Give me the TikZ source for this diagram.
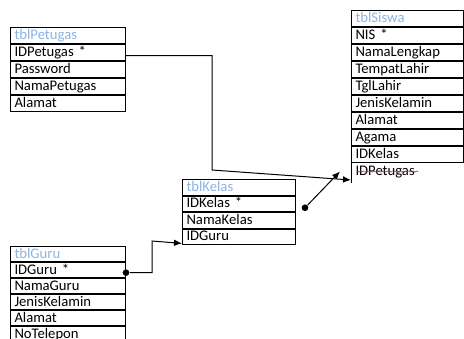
\documentclass[tikz,border=0pt]{standalone}
\usepackage{fontspec}
\setmainfont{Carlito}
\usetikzlibrary{arrows.meta,positioning,decorations.pathmorphing}
\definecolor{head_blue}{RGB}{141,179,226}
\definecolor{spell_red}{RGB}{225,40,40}

\begin{document}
\begin{tikzpicture}[x=0.75pt,y=-0.75pt,line width=0.75pt,>={Latex[length=6pt,width=5pt]}]
    \tikzstyle{cell}=[draw=black, rectangle, inner xsep=3pt, inner ysep=0pt, text height=8pt, text depth=2pt, align=left, font=\fontsize{11pt}{13pt}\selectfont, text=black]
    \tikzstyle{head}=[style=cell, text=head_blue]
    \tikzstyle{dot}=[circle, fill=black, draw=none, inner sep=0pt, minimum size=5pt]
    \tikzstyle{spell}=[spell_red, line width=0.4pt, decorate, decoration={snake, amplitude=0.45pt, segment length=2pt}]

    \useasboundingbox (0,0) rectangle (464,339);

    % tblPetugas
    \begin{scope}[nodes={text width=80.25pt, minimum height=12pt}]
    \node[head, anchor=north west] (ptbl) at (10,27) {tblPetugas};
    \node[cell, below=0pt of ptbl]   (pid)    {IDPetugas *};
    \node[cell, below=0pt of pid]    (ppass)  {Password};
    \node[cell, below=0pt of ppass]  (pnama)  {NamaPetugas};
    \node[cell, below=0pt of pnama]  (palmt)  {Alamat};
    \end{scope}

    % tblSiswa
    \begin{scope}[nodes={text width=78pt, minimum height=12pt}]
    \node[head, anchor=north west] (stbl) at (351,10) {tblSiswa};
    \node[cell, below=0pt of stbl]   (snis)   {NIS *};
    \node[cell, below=0pt of snis]   (snama)  {NamaLengkap};
    \node[cell, below=0pt of snama]  (stmpt)  {TempatLahir};
    \node[cell, below=0pt of stmpt]  (stgl)   {TglLahir};
    \node[cell, below=0pt of stgl]   (sjk)    {JenisKelamin};
    \node[cell, below=0pt of sjk]    (salmt)  {Alamat};
    \node[cell, below=0pt of salmt]  (sagm)   {Agama};
    \node[cell, below=0pt of sagm]   (skls)   {IDKelas};
    \node[cell, draw=none, below=0pt of skls] (spet) {IDPetugas};
    \end{scope}
    \draw ([yshift=-2pt]spet.south west) -- (spet.north west) (spet.north east) -- ([yshift=-2pt]spet.south east);
    \draw[spell] (357,171.5) -- (418,171.5);

    % tblKelas
    \begin{scope}[nodes={text width=78.75pt, minimum height=11.625pt}]
    \node[head, anchor=north west] (ktbl) at (182,179) {tblKelas};
    \node[cell, below=0pt of ktbl]   (kid)    {IDKelas *};
    \node[cell, below=0pt of kid]    (knama)  {NamaKelas};
    \node[cell, below=0pt of knama]  (kgu)    {IDGuru};
    \end{scope}

    % tblGuru
    \begin{scope}[nodes={text width=80.25pt, minimum height=11.25pt}]
    \node[head, anchor=north west] (gtbl) at (10,246) {tblGuru};
    \node[cell, below=0pt of gtbl]   (gid)    {IDGuru *};
    \node[cell, below=0pt of gid]    (gnama)  {NamaGuru};
    \node[cell, below=0pt of gnama]  (gjk)    {JenisKelamin};
    \node[cell, below=0pt of gjk]    (galmt)  {Alamat};
    \node[cell, below=0pt of galmt]  (gtelp)  {NoTelepon};
    \end{scope}

    % relations
    \node[dot] (kdot) at ([xshift=6.75pt,yshift=-3pt]kid.east) {};
    \node[dot] (gdot) at ([yshift=-2pt]gid.east) {};
    \coordinate (pbend) at (212,170);
    \coordinate (gbend) at (152,241);
    \coordinate (kend)  at ([xshift=-8.25pt]spet.west);

    \draw[->] ([yshift=-2.25pt]pid.east) -| (pbend) -- (spet.south west);
    \draw[->] (kdot) -- (kend);
    \draw[->] (gdot) -| (gbend) -- ([yshift=-5pt]kgu.west);
\end{tikzpicture}
\end{document}
